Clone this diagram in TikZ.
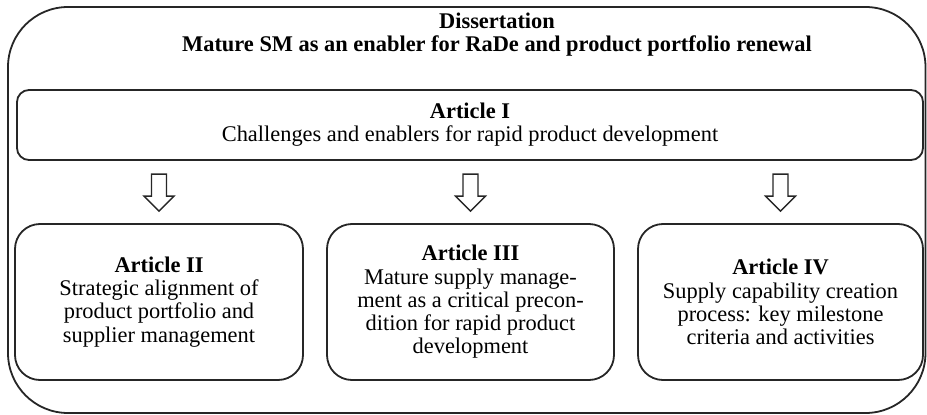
\documentclass[tikz,border=0pt]{standalone}
\usepackage{fontspec}
\setmainfont{Liberation Serif}
\begin{document}
\begin{tikzpicture}[x=1pt,y=-1pt,
  box/.style={draw=black!85,line width=1.8pt,rounded corners=#1,align=center,inner sep=0pt,
    font=\fontsize{22.4}{23.2}\selectfont},
  box/.default=25pt,
  blockarrow/.style={draw=black!85,line width=1.4pt,fill=white,line join=miter},
  outer/.style={draw=black!85,line width=1.8pt}]
\useasboundingbox (0,0) rectangle (927,415);
% outer frame
\draw[outer,rounded corners=60pt] (8,7) rectangle (925.5,413);
\node[font=\fontsize{22.4}{23.2}\selectfont\bfseries,align=center] (diss) at (497,35)
  {Dissertation\\Mature SM as an enabler for RaDe and product portfolio renewal};
% Article I
\node[box=12pt,minimum width=906pt,minimum height=70pt] (a1) at (470,125)
  {\textbf{Article I}\\Challenges and enablers for rapid product development};
% lower boxes
\node[box,minimum width=288pt,minimum height=156pt] (a2) at (159,302)
  {\textbf{Article II}\\Strategic alignment of\\product portfolio and\\supplier management};
\node[box,minimum width=287pt,minimum height=156pt] (a3) at (470.5,302)
  {\textbf{Article III}\\Mature supply manage-\\ment as a critical precon-\\dition for rapid product\\development};
\node[box,minimum width=285pt,minimum height=156pt] (a4) at (780.5,302)
  {\textbf{Article IV}\\Supply capability creation\\process: key milestone\\criteria and activities};
% block arrows
\foreach \b in {a2,a3,a4}{
  \draw[blockarrow] ([yshift=12pt]\b.north) -- ++(-15,-15) -- ++(7.5,0) -- ++(0,-22)
    -- ++(15,0) -- ++(0,22) -- ++(7.5,0) -- cycle;
}
\end{tikzpicture}
\end{document}
